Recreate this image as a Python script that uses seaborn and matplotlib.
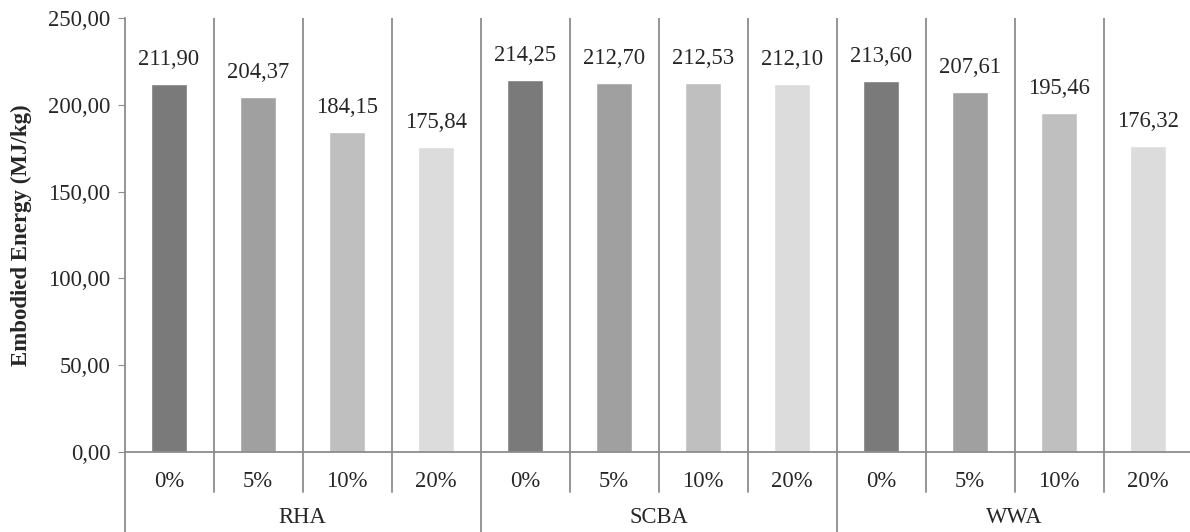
import matplotlib
matplotlib.use("Agg")
import matplotlib.pyplot as plt
import matplotlib.transforms as mtransforms
from matplotlib.ticker import FuncFormatter
import pandas as pd
import seaborn as sns

# data
groups = ["RHA", "SCBA", "WWA"]
levels = ["0%", "5%", "10%", "20%"]
values = [211.90, 204.37, 184.15, 175.84,
          214.25, 212.70, 212.53, 212.10,
          213.60, 207.61, 195.46, 176.32]
shades = ["#7a7a7a", "#a0a0a0", "#bfbfbf", "#dcdcdc"]

df = pd.DataFrame({
    "group": [g for g in groups for _ in levels],
    "level": levels * len(groups),
    "value": values,
})
df["cat"] = df["group"] + " " + df["level"]

sns.set_style("white")
plt.rcParams["font.family"] = ["Liberation Serif", "DejaVu Serif"]
GRID = "#8c8c8c"
FS = 16.3

fig = plt.figure(figsize=(11.9, 5.32), dpi=100)
ax = fig.add_axes([124.5 / 1190, 80 / 532, 1068 / 1190, 434 / 532])

sns.barplot(data=df, x="cat", y="value", hue="level", palette=shades,
            dodge=False, width=0.4, legend=False, ax=ax, saturation=1)

for c in ax.containers:
    ax.bar_label(c, labels=[f"{v:.2f}".replace(".", ",") for v in c.datavalues],
                 padding=10, fontsize=FS)

ax.set_xlim(-0.5, len(values) - 0.5)
ax.set_ylim(0, 250)
ax.set_yticks(range(0, 251, 50))
ax.yaxis.set_major_formatter(FuncFormatter(lambda v, p: f"{v:.2f}".replace(".", ",")))
ax.tick_params(axis="y", length=5, color=GRID, labelsize=FS, pad=5, left=True)
ax.set_ylabel("Embodied Energy (MJ/kg)", fontsize=16.5, fontweight="bold", labelpad=12)

ax.set_xticks(range(len(values)))
ax.set_xticklabels(df["level"], fontsize=FS)
ax.tick_params(axis="x", length=0, pad=14)
ax.set_xlabel("")

for s in ["top", "right"]:
    ax.spines[s].set_visible(False)
for s in ["left", "bottom"]:
    ax.spines[s].set_color(GRID)
    ax.spines[s].set_linewidth(1.3)

# separators between columns
trans = mtransforms.blended_transform_factory(ax.transData, ax.transAxes)
for k in range(len(values)):
    x = k - 0.5
    if k > 0:
        ax.axvline(x, color=GRID, lw=1.3, zorder=0)
    bottom = -0.184 if k % len(levels) == 0 else -0.092
    ax.plot([x, x], [0, bottom], transform=trans, color=GRID, lw=1.3, clip_on=False)

for i, g in enumerate(groups):
    ax.text(i * len(levels) + 1.5, -0.152, g, transform=trans, ha="center",
            va="center", fontsize=FS)

fig.savefig("out.png", dpi=100)
